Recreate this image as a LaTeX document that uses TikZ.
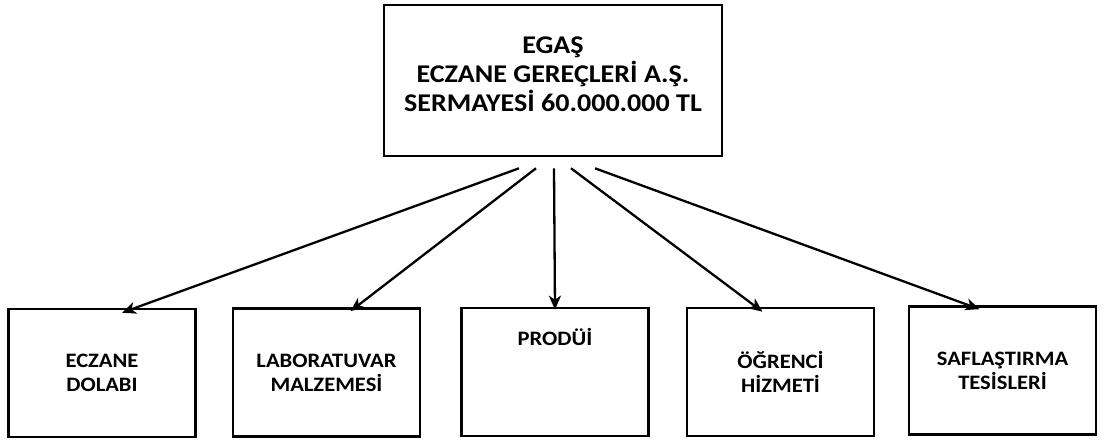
\documentclass[tikz,border=0pt]{standalone}
\usepackage{fontspec}
\setmainfont[FakeStretch=1.1]{Carlito}
\usetikzlibrary{arrows.meta}

\begin{document}
\begin{tikzpicture}[x=1pt, y=-1pt,
        topbox/.style={rectangle, draw, line width=2.6pt, minimum width=338pt, minimum height=151pt, align=center, text depth=12pt, font=\fontsize{25.5}{29}\selectfont\bfseries},
        unit/.style={rectangle, draw, line width=2.6pt, minimum width=187pt, minimum height=128pt, align=center, font=\fontsize{20.5}{24}\selectfont\bfseries},
        arrow/.style={-{Stealth[length=14pt, width=12pt, inset=4pt]}, line width=2.3pt}
    ]
        \useasboundingbox (0,0) rectangle (1108,441);

        \node[topbox] (egas) at (553,80.5) {EGAŞ\\ECZANE GEREÇLERİ A.Ş.\\SERMAYESİ 60.000.000 TL};

        \node[unit] (dolap) at (102,373) {ECZANE\\DOLABI};
        \node[unit] (lab) at (326.5,372.5) {LABORATUVAR\\MALZEMESİ};
        \node[unit, text depth=70pt] (produi) at (555,372) {PRODÜİ};
        \node[unit] (ogrenci) at (780.5,372) {ÖĞRENCİ\\HİZMETİ};
        \node[unit] (saflas) at (1002.5,370.5) {SAFLAŞTIRMA\\TESİSLERİ};

        \draw[arrow] ([xshift=-34pt, yshift=-11pt]egas.south) -- ([xshift=20pt, yshift=-5pt]dolap.north);
        \draw[arrow] ([xshift=-17pt, yshift=-11pt]egas.south) -- ([xshift=24pt, yshift=-4pt]lab.north);
        \draw[arrow] ([xshift=1pt, yshift=-11pt]egas.south) -- ([yshift=-3pt]produi.north);
        \draw[arrow] ([xshift=18pt, yshift=-11pt]egas.south) -- ([xshift=-18pt, yshift=-5pt]ogrenci.north);
        \draw[arrow] ([xshift=42pt, yshift=-11pt]egas.south) -- ([xshift=-23pt, yshift=-4pt]saflas.north);
    \end{tikzpicture}
\end{document}
